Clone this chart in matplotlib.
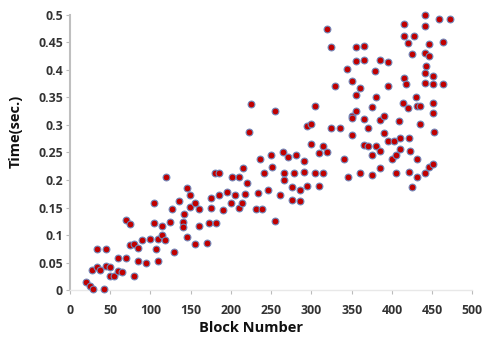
import matplotlib
matplotlib.use("Agg")
import matplotlib.pyplot as plt
import numpy as np

# block number vs. time
block_number = [
    20.0, 24.9, 29.3, 27.4, 34.4, 34.4, 37.5, 42.2, 44.7, 44.7,
    49.6, 49.6, 54.8, 59.5, 59.9, 64.8, 69.6, 69.4, 74.6, 74.9,
    79.6, 80.1, 84.8, 84.8, 89.8, 94.7, 99.9, 104.8, 104.8, 107.0,
    109.8, 109.8, 114.8, 114.8, 118.8, 119.6, 124.9, 127.4, 129.9, 135.2,
    140.1, 141.2, 142.2, 145.3, 145.3, 149.9, 149.9, 155.4, 155.2, 160.1,
    160.1, 170.3, 173.1, 175.2, 175.2, 180.5, 181.7, 185.4, 185.4, 190.4,
    195.6, 200.9, 200.6, 205.4, 210.5, 210.7, 213.6, 215.3, 217.2, 220.4,
    230.7, 233.6, 235.7, 238.9, 240.7, 245.7, 250.3, 250.9, 255.0, 260.8,
    265.1, 265.7, 265.7, 270.6, 275.8, 275.8, 278.9, 280.9, 285.8, 285.8,
    291.0, 291.2, 294.9, 294.4, 299.9, 299.9, 304.8, 304.8, 309.8, 309.8,
    315.1, 315.1, 320.0, 320.0, 325.0, 325.0, 329.9, 335.1, 340.1, 344.1,
    345.1, 350.0, 350.0, 350.0, 350.0, 355.0, 355.0, 355.0, 355.2, 360.1,
    360.1, 365.3, 365.3, 365.3, 365.1, 370.4, 370.6, 374.9, 374.9, 375.3,
    379.3, 379.9, 379.9, 385.4, 385.4, 385.4, 385.4, 390.4, 390.4, 394.7,
    395.3, 395.3, 400.3, 402.7, 405.6, 405.4, 408.5, 410.5, 410.5, 413.5,
    415.1, 415.1, 415.1, 417.8, 420.6, 420.4, 421.6, 421.9, 422.5, 425.3,
    425.3, 427.4, 430.5, 430.7, 430.7, 430.7, 435.4, 435.4, 440.6, 440.6,
    440.6, 442.6, 440.6, 440.6, 440.6, 445.6, 445.6, 445.6, 450.6, 450.6,
    450.6, 450.6, 452.5, 450.9, 458.5, 463.6, 463.6, 472.7, 225.3, 222.5,
    255.4,
]
time_sec = [
    0.015, 0.008, 0.002, 0.036, 0.074, 0.041, 0.036, 0.002, 0.075, 0.044,
    0.041, 0.026, 0.026, 0.059, 0.035, 0.033, 0.059, 0.127, 0.120, 0.082,
    0.026, 0.084, 0.076, 0.053, 0.091, 0.050, 0.092, 0.158, 0.121, 0.075,
    0.053, 0.093, 0.116, 0.100, 0.091, 0.205, 0.124, 0.147, 0.069, 0.161,
    0.124, 0.115, 0.139, 0.185, 0.096, 0.173, 0.151, 0.158, 0.084, 0.147,
    0.116, 0.085, 0.122, 0.167, 0.150, 0.213, 0.122, 0.213, 0.173, 0.145,
    0.178, 0.205, 0.159, 0.173, 0.205, 0.150, 0.159, 0.221, 0.174, 0.194,
    0.148, 0.176, 0.238, 0.148, 0.213, 0.181, 0.245, 0.223, 0.125, 0.173,
    0.251, 0.212, 0.200, 0.241, 0.188, 0.163, 0.212, 0.245, 0.181, 0.161,
    0.234, 0.215, 0.189, 0.298, 0.301, 0.265, 0.335, 0.213, 0.249, 0.190,
    0.261, 0.212, 0.475, 0.251, 0.442, 0.295, 0.370, 0.295, 0.238, 0.402,
    0.205, 0.380, 0.316, 0.313, 0.282, 0.442, 0.417, 0.355, 0.325, 0.368,
    0.212, 0.444, 0.419, 0.311, 0.264, 0.294, 0.261, 0.332, 0.245, 0.209,
    0.399, 0.350, 0.261, 0.419, 0.309, 0.253, 0.222, 0.316, 0.286, 0.371,
    0.415, 0.270, 0.238, 0.270, 0.246, 0.213, 0.307, 0.277, 0.256, 0.340,
    0.483, 0.461, 0.385, 0.374, 0.449, 0.331, 0.277, 0.215, 0.253, 0.429,
    0.188, 0.461, 0.350, 0.334, 0.238, 0.205, 0.335, 0.301, 0.500, 0.480,
    0.430, 0.407, 0.395, 0.377, 0.213, 0.447, 0.426, 0.223, 0.389, 0.375,
    0.340, 0.322, 0.288, 0.230, 0.492, 0.451, 0.374, 0.492, 0.339, 0.288,
    0.325,
]

x_ticks = np.arange(0, 501, 50)
y_ticks = np.arange(0, 0.501, 0.05)

plt.rcParams['font.family'] = ['Open Sans', 'DejaVu Sans']

fig = plt.figure(figsize=(4.83, 3.39), dpi=100)
ax = fig.add_axes([0.1445, 0.1445, 0.8335, 0.8113])

ax.scatter(block_number, time_sec, s=24, c='#C00000', edgecolors='#7088BB',
           linewidths=0.8, clip_on=False, zorder=3)

ax.set_xlim(0, 500)
ax.set_ylim(0, 0.5)
ax.set_xticks(x_ticks)
ax.set_yticks(y_ticks)
ax.set_yticklabels(['0' if v == 0 else ('%.2f' % v).rstrip('0') for v in y_ticks])

for lbl in ax.get_xticklabels() + ax.get_yticklabels():
    lbl.set_fontweight('bold')
    lbl.set_fontsize(8.8)
    lbl.set_color('#333333')

ax.tick_params(axis='both', direction='out', length=3, width=0.8, color='#BBBBBB')
ax.tick_params(axis='x', pad=7)
ax.tick_params(axis='y', pad=2)

for side in ['top', 'right']:
    ax.spines[side].set_visible(False)
ax.spines['left'].set_color('#BFBFBF')
ax.spines['left'].set_linewidth(1.5)
ax.spines['bottom'].set_color('#E8E8E8')
ax.spines['bottom'].set_linewidth(1.0)

ax.set_xlabel('Block Number', fontsize=10.5, fontweight='bold', color='#111111')
ax.set_ylabel('Time(sec.)', fontsize=10.5, fontweight='bold', color='#111111')
ax.xaxis.set_label_coords(0.45, -0.138)
ax.yaxis.set_label_coords(-0.135, 0.575)
ax.xaxis.label.set_va('center')
ax.yaxis.label.set_va('center')

fig.savefig('out.png', dpi=100)
